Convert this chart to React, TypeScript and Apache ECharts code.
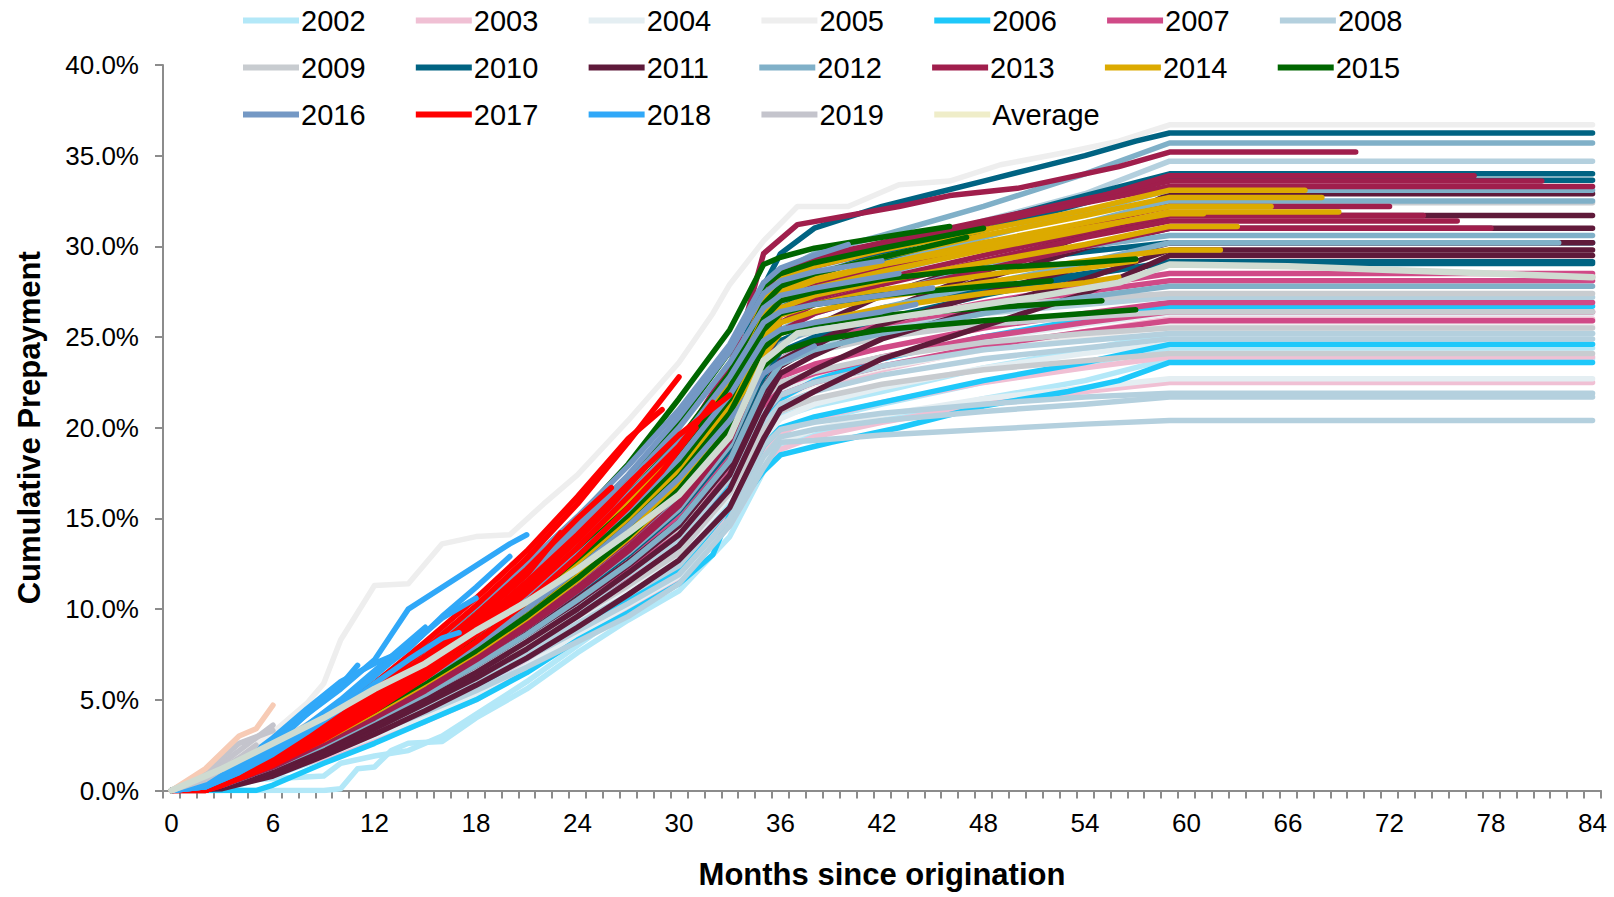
import React, { useEffect, useRef } from "react";
import * as echarts from "echarts";

// ---- Data: each vintage year holds several deals; each deal is a list of [month, cumulative prepayment %]
const monthLabels: string[] = Array.from({ length: 85 }, (_, i) => String(i));
const yTicks = [0, 5, 10, 15, 20, 25, 30, 35, 40];

const y2002: number[][][] = [
  [[0,0],[9,0],[10,0.1],[11,1.2],[12,1.3],[13,2.2],[14,2.6],[16,2.7],[18,4.0],[21,5.6],[24,7.6],[27,9.4],[30,11.0],[33,14.0],[35,17.6],[36,19.0],[38,19.6],[42,20.4],[48,21.6],[54,22.6],[59,23.8],[84,23.8]],
  [[0,0],[3,0],[5,0.6],[9,0.8],[10,1.5],[12,1.9],[14,2.2],[16,3.0],[18,4.2],[21,6.0],[24,8.0],[27,10.0],[30,11.8],[33,15.0],[35,18.5],[36,19.8],[38,20.4],[42,21.3],[48,22.5],[54,23.5],[59,24.4],[84,24.4]],
  [[0,0],[2,0],[6,0.8],[9,1.8],[12,3.0],[15,4.4],[18,5.6],[21,7.2],[24,9.0],[27,10.8],[30,12.6],[33,15.8],[35,19.5],[36,20.6],[38,21.2],[42,22.0],[48,23.3],[54,24.3],[59,25.2],[84,25.2]],
];
const y2003: number[][][] = [
  [[0,0],[3,0.3],[6,1.0],[9,1.8],[12,2.8],[15,3.8],[18,5.0],[21,6.6],[24,8.3],[27,10.0],[30,11.6],[33,14.6],[35,17.8],[36,18.8],[38,19.5],[42,20.3],[48,21.3],[54,22.0],[59,22.5],[84,22.5]],
  [[0,0],[3,0.4],[6,1.3],[9,2.3],[12,3.4],[15,4.6],[18,5.8],[21,7.2],[24,8.9],[27,10.6],[30,12.4],[33,15.4],[35,18.6],[36,19.7],[38,20.5],[42,21.4],[48,22.5],[54,23.3],[59,23.9],[84,23.9]],
  [[0,0],[3,0.5],[6,1.6],[9,2.8],[12,4.0],[15,5.3],[18,6.6],[21,8.0],[24,9.8],[27,11.6],[30,13.6],[33,16.6],[35,20.0],[36,21.2],[38,22.0],[42,23.2],[48,24.4],[54,25.3],[59,26.0],[84,26.0]],
];
const y2004: number[][][] = [
  [[0,0],[3,0.2],[6,0.9],[9,1.9],[12,3.0],[15,4.1],[18,5.3],[21,6.9],[24,8.6],[27,10.2],[30,11.8],[33,14.8],[35,18.0],[36,19.2],[38,19.9],[42,20.7],[48,21.6],[54,22.2],[59,22.7],[84,22.7]],
  [[0,0],[3,0.4],[6,1.4],[9,2.6],[12,3.8],[15,5.0],[18,6.3],[21,7.8],[24,9.5],[27,11.2],[30,13.0],[33,16.2],[35,19.4],[36,20.5],[38,21.3],[42,22.2],[48,23.3],[54,24.1],[59,24.6],[84,24.6]],
  [[0,0],[3,0.6],[6,1.8],[9,3.1],[12,4.4],[15,5.8],[18,7.2],[21,8.8],[24,10.6],[27,12.4],[30,14.4],[33,17.6],[35,21.0],[36,22.0],[38,22.8],[42,23.8],[48,24.9],[54,25.7],[59,26.3],[84,26.3]],
];
const y2005: number[][][] = [
  [[0,0],[3,1.2],[6,3.2],[8,4.8],[9,5.9],[10,8.3],[11,9.8],[12,11.3],[14,11.4],[16,13.6],[18,14.0],[20,14.1],[22,15.8],[24,17.4],[27,20.4],[30,23.6],[32,26.3],[33,27.9],[35,30.3],[37,32.2],[40,32.2],[43,33.4],[46,33.6],[49,34.5],[53,35.2],[56,35.8],[59,36.7],[84,36.7]],
  [[0,0],[3,0.5],[6,1.6],[9,2.9],[12,4.2],[15,5.5],[18,6.9],[21,8.5],[24,10.2],[27,12.0],[30,13.9],[33,17.0],[35,20.5],[36,21.6],[38,22.4],[42,23.3],[48,24.3],[54,25.0],[59,25.6],[84,25.6]],
];
const y2006: number[][][] = [
  [[0,0],[5,0],[6,0.3],[9,1.5],[12,2.6],[15,3.8],[18,5.0],[21,6.5],[24,8.3],[27,9.8],[30,11.4],[32,13.0],[33,15.2],[35,17.6],[36,18.5],[39,19.2],[43,20.0],[48,21.2],[53,22.0],[56,22.6],[59,23.6],[84,23.6]],
  [[0,0],[3,0.2],[6,0.9],[9,2.0],[12,3.3],[15,4.6],[18,5.8],[21,7.3],[24,9.0],[27,10.6],[30,12.2],[33,15.6],[35,19.0],[36,20.0],[38,20.6],[42,21.4],[48,22.6],[54,23.6],[59,24.6],[84,24.6]],
  [[0,0],[3,0.4],[6,1.3],[9,2.5],[12,3.8],[15,5.1],[18,6.5],[21,8.0],[24,9.8],[27,11.6],[30,13.4],[33,16.8],[35,20.4],[36,21.6],[38,22.6],[42,23.8],[48,25.0],[54,26.0],[59,26.7],[84,26.7]],
];
const y2007: number[][][] = [
  [[0,0],[3,0.4],[6,1.4],[9,2.6],[12,3.9],[15,5.2],[18,6.6],[21,8.2],[24,10.0],[27,11.8],[30,13.8],[33,17.2],[35,20.8],[36,21.8],[38,22.5],[42,23.4],[48,24.5],[54,25.3],[59,25.9],[84,25.9]],
  [[0,0],[3,0.5],[6,1.6],[9,2.9],[12,4.2],[15,5.6],[18,7.0],[21,8.6],[24,10.4],[27,12.2],[30,14.2],[33,17.6],[35,21.2],[36,22.3],[38,23.0],[42,23.9],[48,25.0],[54,25.8],[59,26.4],[84,26.4]],
  [[0,0],[3,0.4],[6,1.5],[9,2.8],[12,4.1],[15,5.5],[18,7.0],[21,8.7],[24,10.6],[27,12.6],[30,14.6],[33,18.0],[35,21.6],[36,22.8],[38,23.5],[42,24.4],[48,25.5],[54,26.3],[59,26.9],[84,26.9]],
  [[0,0],[3,0.6],[6,1.8],[9,3.2],[12,4.6],[15,6.0],[18,7.6],[21,9.3],[24,11.2],[27,13.2],[30,15.3],[33,18.8],[35,22.6],[36,23.8],[38,24.6],[42,25.5],[48,26.6],[54,27.5],[59,28.1],[84,28.1]],
  [[0,0],[3,0.5],[6,1.7],[9,3.0],[12,4.4],[15,5.9],[18,7.4],[21,9.1],[24,11.0],[27,13.0],[30,15.1],[33,18.6],[35,22.4],[36,23.8],[38,24.8],[42,25.8],[48,26.9],[54,27.8],[59,28.5],[84,28.5]],
];
const y2008: number[][][] = [
  [[0,0],[3,0.2],[6,1.0],[9,2.0],[12,3.2],[15,4.3],[18,5.5],[21,6.8],[24,8.2],[27,9.6],[30,11.4],[33,14.6],[35,17.8],[36,19.2],[38,19.3],[42,19.6],[48,19.9],[54,20.2],[59,20.4],[84,20.4]],
  [[0,0],[3,0.2],[6,1.1],[9,2.2],[12,3.4],[15,4.6],[18,5.9],[21,7.3],[24,8.8],[27,10.3],[30,11.9],[33,15.0],[35,18.4],[36,19.5],[38,19.9],[42,20.4],[48,20.9],[54,21.3],[59,21.7],[84,21.7]],
  [[0,0],[3,0.3],[6,1.2],[9,2.3],[12,3.6],[15,4.8],[18,6.1],[21,7.6],[24,9.2],[27,10.8],[30,12.4],[33,15.6],[35,19.0],[36,19.9],[38,20.3],[42,20.8],[48,21.3],[54,21.7],[59,21.9],[84,21.9]],
  [[0,0],[3,0.4],[6,1.4],[9,2.6],[12,3.9],[15,5.2],[18,6.6],[21,8.1],[24,9.8],[27,11.5],[30,13.3],[33,16.6],[35,20.2],[36,21.3],[38,22.0],[42,22.9],[48,23.8],[54,24.4],[59,24.9],[84,24.9]],
  [[0,0],[3,0.5],[6,1.5],[9,2.8],[12,4.1],[15,5.4],[18,6.9],[21,8.4],[24,10.1],[27,11.9],[30,13.8],[33,17.2],[35,20.8],[36,21.8],[38,22.5],[42,23.4],[48,24.3],[54,24.8],[59,25.2],[84,25.2]],
  [[0,0],[3,0.6],[6,1.8],[9,3.2],[12,4.6],[15,6.1],[18,7.7],[21,9.4],[24,11.3],[27,13.3],[30,15.4],[33,18.9],[35,22.6],[36,23.8],[38,24.6],[42,25.4],[48,26.3],[54,26.8],[59,27.2],[84,27.2]],
  [[0,0],[3,0.9],[6,2.4],[9,4.0],[12,5.7],[15,7.5],[18,9.4],[21,11.4],[24,13.6],[27,16.0],[30,18.8],[33,22.6],[35,26.4],[36,27.6],[38,28.6],[42,29.8],[48,31.4],[54,32.9],[59,34.7],[84,34.7]],
];
const y2009: number[][][] = [
  [[0,0],[3,0.3],[6,1.2],[9,2.4],[12,3.7],[15,5.0],[18,6.4],[21,7.9],[24,9.6],[27,11.3],[30,13.1],[33,16.4],[35,19.9],[36,20.9],[38,21.6],[42,22.4],[48,23.2],[54,23.7],[59,24.1],[84,24.1]],
  [[0,0],[3,0.5],[6,1.6],[9,2.9],[12,4.3],[15,5.7],[18,7.2],[21,8.8],[24,10.6],[27,12.5],[30,14.5],[33,18.0],[35,21.6],[36,22.5],[38,23.1],[42,23.9],[48,24.7],[54,25.2],[59,25.5],[84,25.5]],
  [[0,0],[3,0.6],[6,1.9],[9,3.3],[12,4.7],[15,6.2],[18,7.8],[21,9.5],[24,11.4],[27,13.4],[30,15.5],[33,19.0],[35,22.7],[36,23.6],[38,24.2],[42,25.0],[48,25.7],[54,26.1],[59,26.4],[84,26.4]],
  [[0,0],[3,0.7],[6,2.1],[9,3.6],[12,5.1],[15,6.7],[18,8.4],[21,10.2],[24,12.2],[27,14.3],[30,16.5],[33,20.1],[35,23.8],[36,24.8],[38,25.3],[42,26.0],[48,26.7],[54,27.1],[59,27.4],[84,27.4]],
  [[0,0],[3,0.9],[6,2.5],[9,4.2],[12,6.0],[15,7.9],[18,9.9],[21,12.0],[24,14.2],[27,16.6],[30,19.3],[33,23.0],[35,27.0],[36,28.2],[38,29.0],[42,30.2],[48,31.3],[54,32.0],[59,32.4],[84,32.4]],
];
const y2010: number[][][] = [
  [[0,0],[3,0.6],[6,1.9],[9,3.4],[12,5.0],[15,6.8],[18,8.7],[21,10.8],[24,13.2],[27,15.8],[30,18.8],[33,22.6],[35,27.8],[36,29.6],[38,31.0],[42,32.2],[45,32.9],[48,33.6],[51,34.3],[54,35.0],[57,35.8],[59,36.25],[84,36.25]],
  [[0,0],[3,0.5],[6,1.7],[9,3.1],[12,4.6],[15,6.2],[18,8.0],[21,9.9],[24,12.0],[27,14.4],[30,17.2],[33,21.0],[35,25.6],[36,27.2],[38,28.4],[42,29.6],[48,31.3],[54,32.8],[59,34.0],[84,34.0]],
  [[0,0],[3,0.4],[6,1.5],[9,2.9],[12,4.4],[15,6.0],[18,7.7],[21,9.6],[24,11.7],[27,14.0],[30,16.7],[33,20.6],[35,25.2],[36,26.8],[38,27.9],[42,29.2],[48,30.9],[54,32.4],[59,33.65],[84,33.65]],
  [[0,0],[3,0.3],[6,1.3],[9,2.6],[12,4.0],[15,5.5],[18,7.1],[21,8.9],[24,10.9],[27,13.0],[30,15.4],[33,18.8],[35,22.8],[36,24.2],[38,25.0],[42,26.0],[48,27.3],[54,28.4],[59,29.15],[84,29.15]],
  [[0,0],[3,0.4],[6,1.4],[9,2.7],[12,4.2],[15,5.8],[18,7.5],[21,9.3],[24,11.4],[27,13.6],[30,16.0],[33,19.6],[35,23.6],[36,24.8],[38,25.6],[42,26.6],[48,27.6],[54,28.5],[59,29.06],[84,29.06]],
  [[0,0],[3,0.5],[6,1.6],[9,3.0],[12,4.5],[15,6.1],[18,7.8],[21,9.7],[24,11.8],[27,14.1],[30,16.8],[33,20.8],[35,25.4],[36,26.6],[38,27.3],[42,28.1],[48,29.0],[54,29.7],[59,30.2],[84,30.2]],
];
const y2011: number[][][] = [
  [[0,0],[3,0.1],[6,0.8],[9,1.9],[12,3.1],[15,4.4],[18,5.8],[21,7.3],[24,9.0],[27,10.8],[30,12.7],[33,15.6],[35,19.4],[36,21.0],[38,22.0],[42,23.8],[48,25.6],[54,27.4],[59,29.5],[84,29.5]],
  [[0,0],[3,0.2],[6,1.0],[9,2.1],[12,3.4],[15,4.8],[18,6.2],[21,7.8],[24,9.6],[27,11.5],[30,13.5],[33,16.6],[35,20.6],[36,22.2],[38,23.2],[42,24.9],[48,26.6],[54,28.2],[59,29.8],[84,29.8]],
  [[0,0],[3,0.2],[6,1.1],[9,2.3],[12,3.6],[15,5.0],[18,6.5],[21,8.2],[24,10.0],[27,12.0],[30,14.1],[33,17.4],[35,21.4],[36,23.0],[38,24.0],[42,25.7],[48,27.4],[54,28.9],[59,30.2],[84,30.2]],
  [[0,0],[3,0.3],[6,1.2],[9,2.5],[12,3.9],[15,5.4],[18,7.0],[21,8.7],[24,10.6],[27,12.6],[30,14.8],[33,18.2],[35,22.2],[36,23.7],[38,24.7],[42,26.4],[48,28.2],[54,29.9],[59,31.0],[84,31.0]],
  [[0,0],[3,0.3],[6,1.3],[9,2.6],[12,4.1],[15,5.6],[18,7.3],[21,9.1],[24,11.1],[27,13.2],[30,15.5],[33,19.0],[35,23.2],[36,24.6],[38,25.6],[42,27.3],[48,29.1],[54,30.6],[59,31.7],[84,31.7]],
  [[0,0],[3,0.2],[6,1.1],[9,2.4],[12,3.8],[15,5.3],[18,6.9],[21,8.6],[24,10.4],[27,12.4],[30,14.6],[33,18.0],[35,22.0],[36,23.4],[38,24.5],[42,26.4],[48,28.6],[54,30.6],[59,32.9],[84,32.9]],
];
const y2012: number[][][] = [
  [[0,0],[3,0.6],[6,1.9],[9,3.4],[12,5.0],[15,6.7],[18,8.5],[21,10.5],[24,12.8],[27,15.3],[30,18.2],[33,22.2],[35,27.0],[36,28.6],[38,29.6],[42,30.6],[48,32.2],[54,34.0],[59,35.7],[84,35.7]],
  [[0,0],[3,0.5],[6,1.7],[9,3.1],[12,4.6],[15,6.2],[18,7.9],[21,9.8],[24,11.9],[27,14.2],[30,16.9],[33,20.8],[35,25.4],[36,26.9],[38,27.9],[42,29.0],[48,30.5],[54,31.9],[59,33.1],[84,33.1]],
  [[0,0],[3,0.5],[6,1.6],[9,3.0],[12,4.5],[15,6.1],[18,7.8],[21,9.7],[24,11.8],[27,14.0],[30,16.6],[33,20.4],[35,25.0],[36,26.4],[38,27.4],[42,28.5],[48,29.9],[54,31.3],[59,32.5],[84,32.5]],
  [[0,0],[3,0.4],[6,1.5],[9,2.8],[12,4.3],[15,5.8],[18,7.5],[21,9.3],[24,11.3],[27,13.5],[30,16.0],[33,19.6],[35,24.0],[36,25.4],[38,26.3],[42,27.4],[48,28.8],[54,30.0],[59,30.6],[84,30.6]],
  [[0,0],[3,0.4],[6,1.4],[9,2.7],[12,4.1],[15,5.6],[18,7.2],[21,9.0],[24,11.0],[27,13.1],[30,15.5],[33,19.0],[35,23.2],[36,24.6],[38,25.5],[42,26.6],[48,27.9],[54,29.1],[59,30.2],[82,30.2]],
  [[0,0],[3,0.3],[6,1.3],[9,2.5],[12,3.9],[15,5.3],[18,6.9],[21,8.6],[24,10.5],[27,12.5],[30,14.8],[33,18.2],[35,22.2],[36,23.5],[38,24.3],[42,25.2],[48,26.3],[54,27.2],[59,27.8],[84,27.8]],
];
const y2013: number[][][] = [
  [[0,0],[3,0.6],[6,1.9],[9,3.4],[12,5.0],[15,6.8],[18,8.8],[21,11.0],[24,13.4],[27,16.0],[30,19.0],[33,23.4],[34,26.2],[35,29.6],[37,31.2],[43,32.2],[46,32.8],[50,33.2],[56,34.4],[59,35.2],[70,35.2]],
  [[0,0],[3,0.5],[6,1.8],[9,3.2],[12,4.8],[15,6.5],[18,8.4],[21,10.5],[24,12.8],[27,15.3],[30,18.2],[33,22.4],[35,27.2],[36,28.6],[38,29.4],[42,30.2],[48,31.4],[54,32.6],[59,33.6],[81,33.6]],
  [[0,0],[3,0.5],[6,1.7],[9,3.1],[12,4.7],[15,6.3],[18,8.1],[21,10.1],[24,12.4],[27,14.8],[30,17.6],[33,21.8],[35,26.6],[36,28.0],[38,28.9],[42,29.8],[48,31.2],[54,32.5],[59,33.9],[77,33.9]],
  [[0,0],[3,0.4],[6,1.5],[9,2.9],[12,4.4],[15,6.0],[18,7.8],[21,9.7],[24,11.8],[27,14.1],[30,16.8],[33,20.8],[35,25.6],[36,27.0],[38,27.8],[42,28.8],[48,30.0],[54,31.2],[59,32.2],[72,32.2]],
  [[0,0],[3,0.4],[6,1.5],[9,2.8],[12,4.3],[15,5.9],[18,7.6],[21,9.5],[24,11.6],[27,13.8],[30,16.4],[33,20.2],[35,24.8],[36,26.2],[38,27.1],[42,28.2],[48,29.5],[54,30.8],[59,31.7],[74,31.7]],
  [[0,0],[3,0.4],[6,1.4],[9,2.7],[12,4.1],[15,5.7],[18,7.4],[21,9.2],[24,11.2],[27,13.4],[30,15.9],[33,19.6],[35,24.2],[36,25.8],[38,26.8],[42,27.9],[48,29.2],[54,30.5],[59,31.4],[76,31.4]],
  [[0,0],[3,0.3],[6,1.3],[9,2.6],[12,4.0],[15,5.5],[18,7.2],[21,9.0],[24,11.0],[27,13.2],[30,15.7],[33,19.3],[35,23.8],[36,25.3],[38,26.3],[42,27.4],[48,28.7],[54,30.0],[59,31.0],[78,31.0]],
  [[0,0],[3,0.5],[6,1.7],[9,3.1],[12,4.7],[15,6.4],[18,8.2],[21,10.2],[24,12.5],[27,15.0],[30,17.9],[33,22.0],[35,26.9],[36,28.4],[38,29.2],[42,30.1],[48,31.3],[54,32.4],[59,33.3],[84,33.3]],
];
const y2014: number[][][] = [
  [[0,0],[3,0.7],[6,2.1],[9,3.7],[12,5.4],[15,7.2],[18,9.2],[21,11.4],[24,13.8],[27,16.3],[30,19.2],[33,22.8],[35,27.0],[36,28.2],[38,28.9],[42,29.8],[48,30.9],[54,32.0],[59,33.1],[67,33.1]],
  [[0,0],[3,0.6],[6,1.9],[9,3.5],[12,5.2],[15,7.0],[18,9.0],[21,11.1],[24,13.4],[27,15.9],[30,18.7],[33,22.4],[35,26.6],[36,27.8],[38,28.5],[42,29.4],[48,30.6],[54,31.7],[59,32.7],[68,32.7]],
  [[0,0],[3,0.6],[6,1.9],[9,3.4],[12,5.0],[15,6.8],[18,8.7],[21,10.8],[24,13.1],[27,15.5],[30,18.3],[33,22.0],[35,26.2],[36,27.4],[38,28.1],[42,29.0],[48,30.2],[54,31.3],[59,32.2],[65,32.2]],
  [[0,0],[3,0.5],[6,1.8],[9,3.3],[12,4.9],[15,6.6],[18,8.5],[21,10.5],[24,12.8],[27,15.2],[30,18.0],[33,21.6],[35,25.8],[36,27.0],[38,27.7],[42,28.6],[48,29.8],[54,30.9],[59,31.9],[69,31.9]],
  [[0,0],[3,0.6],[6,2.0],[9,3.6],[12,5.3],[15,7.1],[18,9.1],[21,11.2],[24,13.6],[27,16.1],[30,19.0],[33,22.6],[35,26.6],[36,27.6],[38,28.2],[42,29.0],[48,30.0],[54,31.0],[59,31.8],[61,31.8]],
  [[0,0],[3,0.5],[6,1.7],[9,3.2],[12,4.8],[15,6.5],[18,8.4],[21,10.4],[24,12.6],[27,15.0],[30,17.7],[33,21.3],[35,25.4],[36,26.6],[38,27.3],[42,28.1],[48,29.1],[54,30.1],[59,31.1],[63,31.1]],
  [[0,0],[3,0.5],[6,1.7],[9,3.1],[12,4.7],[15,6.3],[18,8.1],[21,10.1],[24,12.3],[27,14.6],[30,17.3],[33,20.9],[35,25.0],[36,26.2],[38,26.8],[42,27.6],[48,28.4],[54,29.2],[59,29.8],[62,29.8]],
  [[0,0],[3,0.4],[6,1.6],[9,3.0],[12,4.5],[15,6.1],[18,7.9],[21,9.8],[24,12.0],[27,14.3],[30,16.9],[33,20.5],[35,24.6],[36,25.8],[38,26.4],[42,27.2],[48,28.0],[54,28.8],[57,29.2]],
  [[0,0],[3,0.4],[6,1.5],[9,2.8],[12,4.3],[15,5.9],[18,7.6],[21,9.5],[24,11.6],[27,13.9],[30,16.5],[33,20.0],[35,24.0],[36,25.2],[38,25.8],[42,26.6],[48,27.4],[54,28.0],[56,28.3]],
];
const y2015: number[][][] = [
  [[0,0],[3,0.8],[6,2.3],[9,4.0],[12,5.9],[15,7.9],[18,10.0],[21,12.4],[24,15.0],[27,18.0],[30,21.6],[33,25.4],[35,29.0],[36,29.4],[38,29.9],[42,30.5],[46,31.1]],
  [[0,0],[3,0.7],[6,2.1],[9,3.7],[12,5.5],[15,7.4],[18,9.5],[21,11.8],[24,14.4],[27,17.2],[30,20.4],[33,24.2],[35,27.8],[36,28.5],[38,29.1],[42,29.9],[48,31.0]],
  [[0,0],[3,0.6],[6,2.0],[9,3.6],[12,5.3],[15,7.1],[18,9.1],[21,11.3],[24,13.7],[27,16.3],[30,19.3],[33,23.0],[35,26.8],[36,27.8],[38,28.5],[42,29.4],[47,30.5]],
  [[0,0],[3,0.6],[6,1.9],[9,3.4],[12,5.0],[15,6.8],[18,8.7],[21,10.8],[24,13.1],[27,15.6],[30,18.5],[33,22.2],[35,26.0],[36,27.0],[38,27.5],[42,28.2],[48,28.8],[54,29.1],[57,29.3]],
  [[0,0],[3,0.5],[6,1.8],[9,3.3],[12,4.9],[15,6.6],[18,8.5],[21,10.5],[24,12.8],[27,15.2],[30,18.0],[33,21.6],[35,25.4],[36,26.3],[38,26.8],[42,27.3],[48,27.8],[52,28.1]],
  [[0,0],[3,0.5],[6,1.7],[9,3.1],[12,4.6],[15,6.2],[18,8.0],[21,10.0],[24,12.2],[27,14.6],[30,17.3],[33,20.8],[35,24.4],[36,25.2],[38,25.7],[42,26.2],[48,26.6],[55,27.0]],
  [[0,0],[3,0.4],[6,1.6],[9,2.9],[12,4.4],[15,6.0],[18,7.7],[21,9.6],[24,11.7],[27,14.0],[30,16.6],[33,20.0],[35,23.4],[36,24.2],[38,24.8],[42,25.4],[48,25.9],[54,26.3],[57,26.5]],
];
const y2016: number[][][] = [
  [[0,0],[3,0.8],[6,2.3],[9,4.0],[12,5.9],[15,7.9],[18,10.1],[21,12.5],[24,15.1],[27,17.9],[30,21.0],[33,24.6],[35,28.0],[36,28.8],[38,29.5],[40,30.1]],
  [[0,0],[3,0.7],[6,2.1],[9,3.7],[12,5.5],[15,7.4],[18,9.5],[21,11.8],[24,14.3],[27,17.0],[30,20.0],[33,23.6],[35,26.6],[36,27.3],[38,27.7],[43,28.5]],
  [[0,0],[3,0.6],[6,2.0],[9,3.6],[12,5.3],[15,7.1],[18,9.1],[21,11.3],[24,13.7],[27,16.3],[30,19.2],[33,22.8],[35,25.8],[36,26.4],[38,26.8],[42,27.3],[45,27.7]],
  [[0,0],[3,0.6],[6,1.9],[9,3.4],[12,5.0],[15,6.7],[18,8.6],[21,10.7],[24,13.0],[27,15.5],[30,18.3],[33,21.8],[35,24.8],[36,25.4],[38,25.8],[42,26.4],[44,26.8]],
  [[0,0],[3,0.5],[6,1.7],[9,3.1],[12,4.6],[15,6.2],[18,8.0],[21,10.0],[24,12.2],[27,14.6],[30,17.2],[33,20.4],[35,23.0],[36,23.6],[38,24.5]],
  [[0,0],[3,0.7],[6,2.2],[9,3.9],[12,5.7],[15,7.6],[18,9.7],[21,12.0],[24,14.6],[27,17.4],[30,20.6],[33,24.2],[35,27.4],[36,28.1],[38,28.6],[42,29.2]],
];
const y2017: number[][][] = [
  [[0,0],[2,0],[3,0.4],[6,1.8],[9,3.6],[12,5.6],[15,7.8],[18,10.2],[21,12.8],[24,15.8],[27,19.2],[30,22.8]],
  [[0,0],[2,0],[3,0.3],[6,1.5],[9,3.1],[12,4.9],[15,6.9],[18,9.1],[21,11.5],[24,14.1],[27,16.9],[30,19.6],[33,21.8]],
  [[0,0],[2,0],[3,0.3],[6,1.4],[9,2.9],[12,4.6],[15,6.5],[18,8.6],[21,10.9],[24,13.4],[27,16.2],[30,19.0],[32,21.4]],
  [[0,0],[2,0],[3,0.4],[6,1.7],[9,3.4],[12,5.3],[15,7.4],[18,9.7],[21,12.2],[24,15.0],[26,16.7]],
  [[0,0],[2,0],[3,0.3],[6,1.5],[9,3.0],[12,4.8],[15,6.7],[18,8.8],[21,11.2],[24,13.8],[26,15.7],[28,17.8]],
  [[0,0],[2,0],[3,0.4],[6,1.6],[9,3.2],[12,5.1],[15,7.1],[18,9.4],[21,11.9],[23,14.2]],
  [[0,0],[2,0],[3,0.3],[6,1.4],[9,2.8],[12,4.4],[15,6.2],[18,8.2],[21,10.4],[24,12.9],[27,15.6],[29,17.6],[31,20.0]],
  [[0,0],[2,0],[3,0.5],[6,2.0],[9,3.8],[12,5.9],[15,8.2],[18,10.6],[21,13.2],[24,16.2],[27,19.4],[29,21.0]],
];
const y2018: number[][][] = [
  [[0,0],[2,0.3],[4,1.4],[6,2.5],[8,4.2],[10,5.6],[12,7.2],[13,8.6],[14,10.0],[16,11.2],[18,12.4],[20,13.6],[21,14.1]],
  [[0,0],[2,0.2],[4,1.1],[6,2.2],[8,3.5],[10,4.9],[12,6.4],[14,7.8],[16,9.6],[18,11.2],[20,12.9]],
  [[0,0],[2,0.2],[4,1.0],[6,2.0],[8,3.2],[10,4.5],[12,5.9],[14,7.2],[16,8.4],[17,8.7]],
  [[0,0],[2,0.3],[4,1.4],[6,2.7],[8,4.2],[10,5.8],[11,6.9]],
  [[0,0],[2,0.2],[4,1.2],[6,2.3],[8,3.6],[10,5.0],[12,6.6],[14,8.2],[15,9.0]],
  [[0,0],[2,0.2],[4,1.0],[6,2.1],[8,3.4],[10,4.8],[12,6.3],[14,7.9],[16,9.5],[18,10.6]],
  [[0,0],[2,0.3],[4,1.5],[6,2.9],[8,4.5],[10,6.0],[12,7.0],[13,7.4]],
];
const y2019: number[][][] = [
  [[0,0],[2,0.8],[4,2.2],[6,3.6]],
  [[0,0],[2,0.6],[4,1.8],[5,2.5]],
  [[0,0],[2,1.0],[4,2.6],[6,3.3]],
];
const y2019b: number[][][] = [
  [[0,0],[2,1.2],[4,3.0],[5,3.4],[6,4.7]],
];
const averageLine: number[][] = [
  [0,0],[3,1.2],[6,2.6],[9,4.0],[12,5.6],[15,7.0],[18,8.8],[21,10.4],[24,12.2],[27,14.2],[30,16.3],[33,19.5],[35,23.7],[37,25.2],[43,26.1],[51,27.2],[56,28.0],[59,29.0],[66,28.9],[72,28.7],[78,28.5],[84,28.3],
];

// ---- Styling
const vintages = [
  { name: "2002", color: "#b3e8f8", lines: y2002 },
  { name: "2003", color: "#f0c0d4", lines: y2003 },
  { name: "2004", color: "#e4eef2", lines: y2004 },
  { name: "2005", color: "#eeeeee", lines: y2005 },
  { name: "2006", color: "#1ec8fa", lines: y2006 },
  { name: "2007", color: "#d04a87", lines: y2007 },
  { name: "2008", color: "#b4d0de", lines: y2008 },
  { name: "2009", color: "#c8ccd0", lines: y2009 },
  { name: "2010", color: "#006382", lines: y2010 },
  { name: "2011", color: "#5f1a3a", lines: y2011 },
  { name: "2012", color: "#80b0c8", lines: y2012 },
  { name: "2013", color: "#a01e4c", lines: y2013 },
  { name: "2014", color: "#dcaa00", lines: y2014 },
  { name: "2015", color: "#006600", lines: y2015 },
  { name: "2016", color: "#7498c4", lines: y2016 },
  { name: "2017", color: "#ff0000", lines: y2017 },
  { name: "2018", color: "#30a8f8", lines: y2018 },
  { name: "2019", color: "#c4c4cc", lines: y2019 },
  { name: "2019", color: "#f7cbb5", lines: y2019b },
];

const FONT = "'Liberation Sans', Arial, Helvetica, sans-serif";
const legendRows = [
  ["2002", "2003", "2004", "2005", "2006", "2007", "2008"],
  ["2009", "2010", "2011", "2012", "2013", "2014", "2015"],
  ["2016", "2017", "2018", "2019", "Average"],
];
const legendColors: Record<string, string> = {
  "2002": "#b3e8f8", "2003": "#f0c0d4", "2004": "#e4eef2", "2005": "#eeeeee", "2006": "#1ec8fa",
  "2007": "#d04a87", "2008": "#b4d0de", "2009": "#c8ccd0", "2010": "#006382", "2011": "#5f1a3a",
  "2012": "#80b0c8", "2013": "#a01e4c", "2014": "#dcaa00", "2015": "#006600", "2016": "#7498c4",
  "2017": "#ff0000", "2018": "#30a8f8", "2019": "#c4c4cc", Average: "#efedc9",
};

export default function App() {
  const ref = useRef<HTMLDivElement>(null);
  useEffect(() => {
    if (!ref.current) return;
    const chart = echarts.init(ref.current, undefined, { renderer: "svg" });
    const series: any[] = [];
    vintages.forEach((v) => {
      v.lines.forEach((line) => {
        series.push({
          type: "line",
          name: v.name,
          data: line,
          showSymbol: false,
          symbol: "none",
          silent: true,
          lineStyle: { color: v.color, width: 5.5, cap: "round", join: "round" },
          itemStyle: { color: v.color },
        });
      });
    });
    series.push({
      type: "line",
      name: "Average",
      data: averageLine,
      showSymbol: false,
      symbol: "none",
      silent: true,
      lineStyle: { color: "#cfdbd1", width: 6.5, cap: "round", join: "round" },
      itemStyle: { color: "#cfdbd1" },
    });

    const legendTops = [1, 48, 95];
    const legend = legendRows.map((row, i) => ({
      data: row.map((n) => ({ name: n, itemStyle: { color: legendColors[n] } })),
      left: 238,
      top: legendTops[i],
      icon: "rect",
      itemWidth: 56,
      itemHeight: 6,
      itemGap: 50.3,
      selectedMode: false,
      textStyle: { fontSize: 29, color: "#000", fontFamily: FONT, padding: [0, 0, 0, -3] },
    }));

    chart.setOption({
      animation: false,
      backgroundColor: "#ffffff",
      legend,
      grid: { left: 163, right: 13, top: 65, bottom: 106.5, containLabel: false },
      xAxis: {
        type: "category",
        data: monthLabels,
        boundaryGap: true,
        name: "Months since origination",
        nameLocation: "middle",
        nameGap: 68,
        nameTextStyle: { fontSize: 31, fontWeight: "bold", color: "#000", fontFamily: FONT },
        axisLine: { lineStyle: { color: "#8c8c8c", width: 2 } },
        axisTick: { show: true, interval: 0, length: 8, lineStyle: { color: "#8c8c8c", width: 2 } },
        axisLabel: { interval: 5, margin: 19, fontSize: 26, color: "#000", fontFamily: FONT },
        splitLine: { show: false },
      },
      yAxis: {
        type: "value",
        min: yTicks[0],
        max: yTicks[yTicks.length - 1],
        interval: 5,
        name: "Cumulative Prepayment",
        nameLocation: "middle",
        nameGap: 118,
        nameRotate: 90,
        nameTextStyle: { fontSize: 31, fontWeight: "bold", color: "#000", fontFamily: FONT },
        axisLine: { show: true, lineStyle: { color: "#8c8c8c", width: 2 } },
        axisTick: { show: true, length: 8, lineStyle: { color: "#8c8c8c", width: 2 } },
        axisLabel: {
          margin: 24,
          fontSize: 26,
          color: "#000",
          fontFamily: FONT,
          formatter: (val: number) => val.toFixed(1) + "%",
        },
        splitLine: { show: false },
      },
      series,
    });
    return () => chart.dispose();
  }, []);
  return (
    <div
      ref={ref}
      style={{ position: "fixed", left: 0, top: 0, width: 1614, height: 897, background: "#fff" }}
    />
  );
}
